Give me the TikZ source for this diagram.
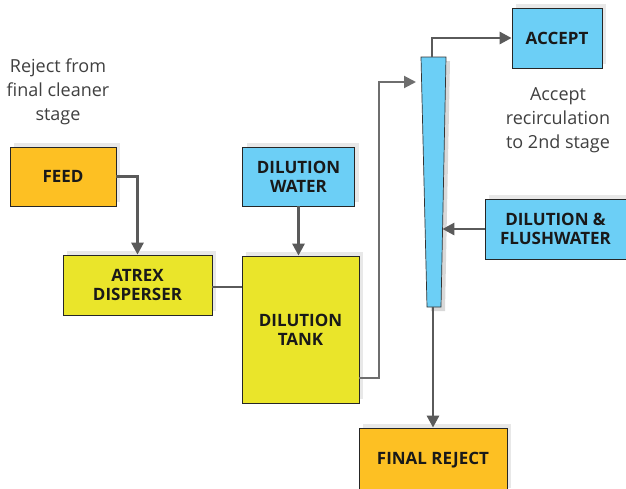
\documentclass[tikz,border=0pt]{standalone}
\usepackage{fontspec}
\setmainfont{Open Sans}
\usetikzlibrary{arrows.meta,shadows}
\definecolor{orangebox}{HTML}{FDC023}
\definecolor{yellowbox}{HTML}{EAE52A}
\definecolor{bluebox}{HTML}{6CCFF6}
\definecolor{linegray}{HTML}{5A5A5A}
\definecolor{thingray}{HTML}{6E6E6E}
\definecolor{captiongray}{HTML}{404040}
\tikzset{
  box/.style={draw=black!85, line width=0.8pt, align=center, inner sep=0pt,
    font=\fontsize{17}{19}\selectfont\bfseries, text=black!90,
    drop shadow={opacity=0.18, shadow xshift=4pt, shadow yshift=4pt}},
  orangenode/.style={box, fill=orangebox},
  yellownode/.style={box, fill=yellowbox},
  bluenode/.style={box, fill=bluebox},
  caption/.style={align=center, font=\fontsize{18}{24}\selectfont, text=captiongray},
  flow/.style={draw=linegray, line width=2.8pt, -{Triangle[length=12pt,width=12pt]}},
  flowplain/.style={draw=linegray, line width=2.8pt},
  thinflow/.style={draw=thingray, line width=2pt, -{Triangle[length=12pt,width=12pt]}, line join=miter},
}
\begin{document}
\begin{tikzpicture}[x=1pt, y=-1pt]
\clip (0,0) rectangle (626,488);
\fill[white] (0,0) rectangle (626,488);
% captions
\node[caption] (rejcap) at (58,92) {Reject from\\final cleaner\\stage};
\node[caption] (acccap) at (558,120) {Accept\\recirculation\\to 2nd stage};
% boxes
\node[orangenode, minimum width=106pt, minimum height=59pt] (feed) at (63,176.5) {FEED};
\node[yellownode, minimum width=149pt, minimum height=60pt] (atrex) at (137.5,285) {ATREX\\DISPERSER};
\node[bluenode, minimum width=112pt, minimum height=59pt] (dw) at (298.5,176.5) {DILUTION\\WATER};
\node[yellownode, minimum width=117pt, minimum height=147pt] (tank) at (300.5,329.5) {DILUTION\\TANK};
\node[bluenode, minimum width=90pt, minimum height=60pt] (accept) at (557,38) {ACCEPT};
\node[bluenode, minimum width=141pt, minimum height=60pt] (dfw) at (555.5,229) {DILUTION \&\\FLUSHWATER};
\node[orangenode, minimum width=148pt, minimum height=64pt] (final) at (433,460) {FINAL REJECT};
% cyclone
\fill[black, opacity=0.15] (425,61) -- (450,61) -- (445,311) -- (431,311) -- cycle;
\filldraw[fill=bluebox, draw=black!80, line width=0.7pt] (421,57) -- (446,57) -- (441,307) -- (427,307) -- cycle;
\coordinate (cyctop) at (432,57);
\coordinate (cycin) at (416,82);
\coordinate (cycright) at (442.4,229);
\coordinate (cycbot) at (433,307);
% connectors
\draw[flow] (feed.east) -| (atrex.north);
\draw[flowplain] (atrex.east |- 0,287) -- (tank.west |- 0,287);
\draw[flow] (dw.south) -- (dw.south |- tank.north);
\draw[thinflow] (tank.east |- 0,378) -- (379,378) |- (cycin);
\draw[flow] (cyctop) |- (accept.west);
\draw[flow] (dfw.west) -- (cycright);
\draw[flow] (cycbot) -- (final.north);
\end{tikzpicture}
\end{document}
